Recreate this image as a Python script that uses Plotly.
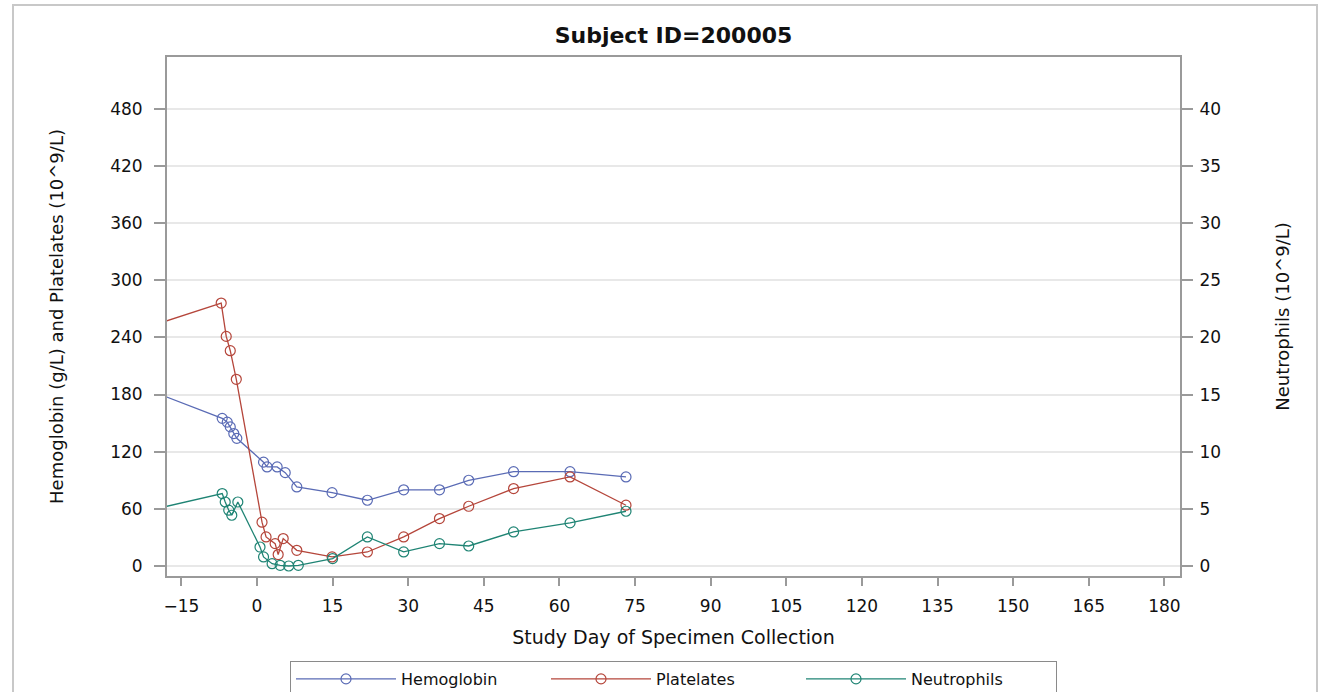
import plotly.graph_objects as go

# ---- data ----
hgb_days = [-28, -6.9, -5.9, -5.3, -4.6, -4.0, 1.3, 2.0, 4.0, 5.6, 7.9, 14.9, 21.9, 29.1, 36.2, 42.0, 50.9, 62.1, 73.2]
hgb_vals = [198, 155, 151, 146, 139, 134, 109, 104, 104, 98, 83, 77, 69, 80, 80, 90, 99, 99, 93.5]

plt_days = [-28, -7.1, -6.1, -5.3, -4.1, 1.0, 1.8, 3.6, 4.2, 5.2, 7.9, 14.9, 21.9, 29.1, 36.2, 42.0, 50.9, 62.1, 73.2]
plt_vals = [240, 276, 241, 226, 196, 46, 30.5, 23.5, 12, 28.8, 16.5, 9.5, 14.7, 30.5, 49.8, 62.7, 81.3, 93.5, 63.8]

neu_days = [-28, -6.9, -6.3, -5.6, -5.0, -3.8, 0.6, 1.3, 3.0, 4.6, 6.3, 8.2, 15.0, 21.9, 29.1, 36.2, 42.0, 50.9, 62.1, 73.2]
neu_vals = [4.2, 6.34, 5.6, 4.88, 4.44, 5.6, 1.66, 0.79, 0.2, 0.06, 0.0, 0.06, 0.65, 2.54, 1.23, 1.96, 1.75, 2.98, 3.77, 4.79]

x_ticks = list(range(-15, 181, 15))
y_ticks = list(range(0, 481, 60))
y2_ticks = list(range(0, 41, 5))

title_text = "Subject ID=200005"
x_title = "Study Day of Specimen Collection"
y_title = "Hemoglobin (g/L) and Platelates (10^9/L)"
y2_title = "Neutrophils (10^9/L)"

# ---- styling ----
FONT = "DejaVu Sans"
C_HGB = "#5a6bb5"
C_PLT = "#b5463b"
C_NEU = "#1f8474"
AXIS_C = "#9a9a9a"
GRID_C = "#e8e8e8"
TXT = "#111111"

fig = go.Figure()
for days, vals, name, color, yax in [
    (hgb_days, hgb_vals, "Hemoglobin", C_HGB, "y"),
    (plt_days, plt_vals, "Platelates", C_PLT, "y"),
    (neu_days, neu_vals, "Neutrophils", C_NEU, "y2"),
]:
    fig.add_trace(go.Scatter(
        x=days, y=vals, name=name, yaxis=yax, mode="lines+markers",
        line=dict(color=color, width=1.3),
        marker=dict(symbol="circle-open", size=10, color=color, line=dict(width=1.2)),
    ))

L, R, T, B = 167, 140, 57, 116
W, H = 1320, 692
pw = W - L - R
ph = H - T - B

def px_x(p):
    return (p - L) / pw

def px_y(p):
    return (H - B - p) / ph

fig.update_layout(
    width=W, height=H, autosize=False,
    margin=dict(l=L, r=R, t=T, b=B, pad=0, autoexpand=False),
    paper_bgcolor="white", plot_bgcolor="white",
    font=dict(family=FONT, size=16, color=TXT),
    title=dict(text="<b>" + title_text + "</b>", x=0.5, xref="paper", xanchor="center",
               y=1 - 35 / H, yref="container", yanchor="middle",
               font=dict(family=FONT, size=22, color=TXT)),
    xaxis=dict(range=[-17.85, 183.1], tickvals=x_ticks, ticks="outside", ticklen=8,
               tickcolor=AXIS_C, tickwidth=1.5, showline=True, linecolor=AXIS_C, linewidth=2,
               mirror=True, showgrid=False, zeroline=False,
               tickfont=dict(family=FONT, size=17, color=TXT), ticklabelstandoff=6,
               title=dict(text=x_title, font=dict(family=FONT, size=19, color=TXT), standoff=15)),
    yaxis=dict(range=[-10.5, 534.3], tickvals=y_ticks, ticks="outside", ticklen=11,
               tickcolor=AXIS_C, tickwidth=1.5, showline=True, linecolor=AXIS_C, linewidth=2,
               mirror=True, showgrid=True, gridcolor=GRID_C, gridwidth=1.5, zeroline=False,
               tickfont=dict(family=FONT, size=17, color=TXT), ticklabelstandoff=8,
               title=dict(text=y_title, font=dict(family=FONT, size=18, color=TXT), standoff=42)),
    yaxis2=dict(range=[-0.876, 44.54], tickvals=y2_ticks, ticks="outside", ticklen=11,
                tickcolor=AXIS_C, tickwidth=1.5, showline=True, linecolor=AXIS_C, linewidth=2,
                overlaying="y", side="right", showgrid=False, zeroline=False,
                tickfont=dict(family=FONT, size=17, color=TXT), ticklabelstandoff=3,
                title=dict(text=y2_title, font=dict(family=FONT, size=18, color=TXT), standoff=56)),
    legend=dict(orientation="h", x=0.5, xanchor="center", xref="paper",
                y=1 - 661 / H, yref="container", yanchor="top",
                bordercolor="#8a8a8a", borderwidth=1, bgcolor="white",
                font=dict(family=FONT, size=16, color=TXT),
                entrywidth=140, entrywidthmode="pixels", itemwidth=100),
    shapes=[dict(type="rect", xref="paper", yref="paper",
                 x0=px_x(13), x1=px_x(1317), y0=px_y(5), y1=px_y(720),
                 line=dict(color="#c8c8c8", width=2), fillcolor="rgba(0,0,0,0)", layer="below")],
)

fig.write_html("out.html", config={"displayModeBar": False},
               post_script="document.body.style.margin='0';")
